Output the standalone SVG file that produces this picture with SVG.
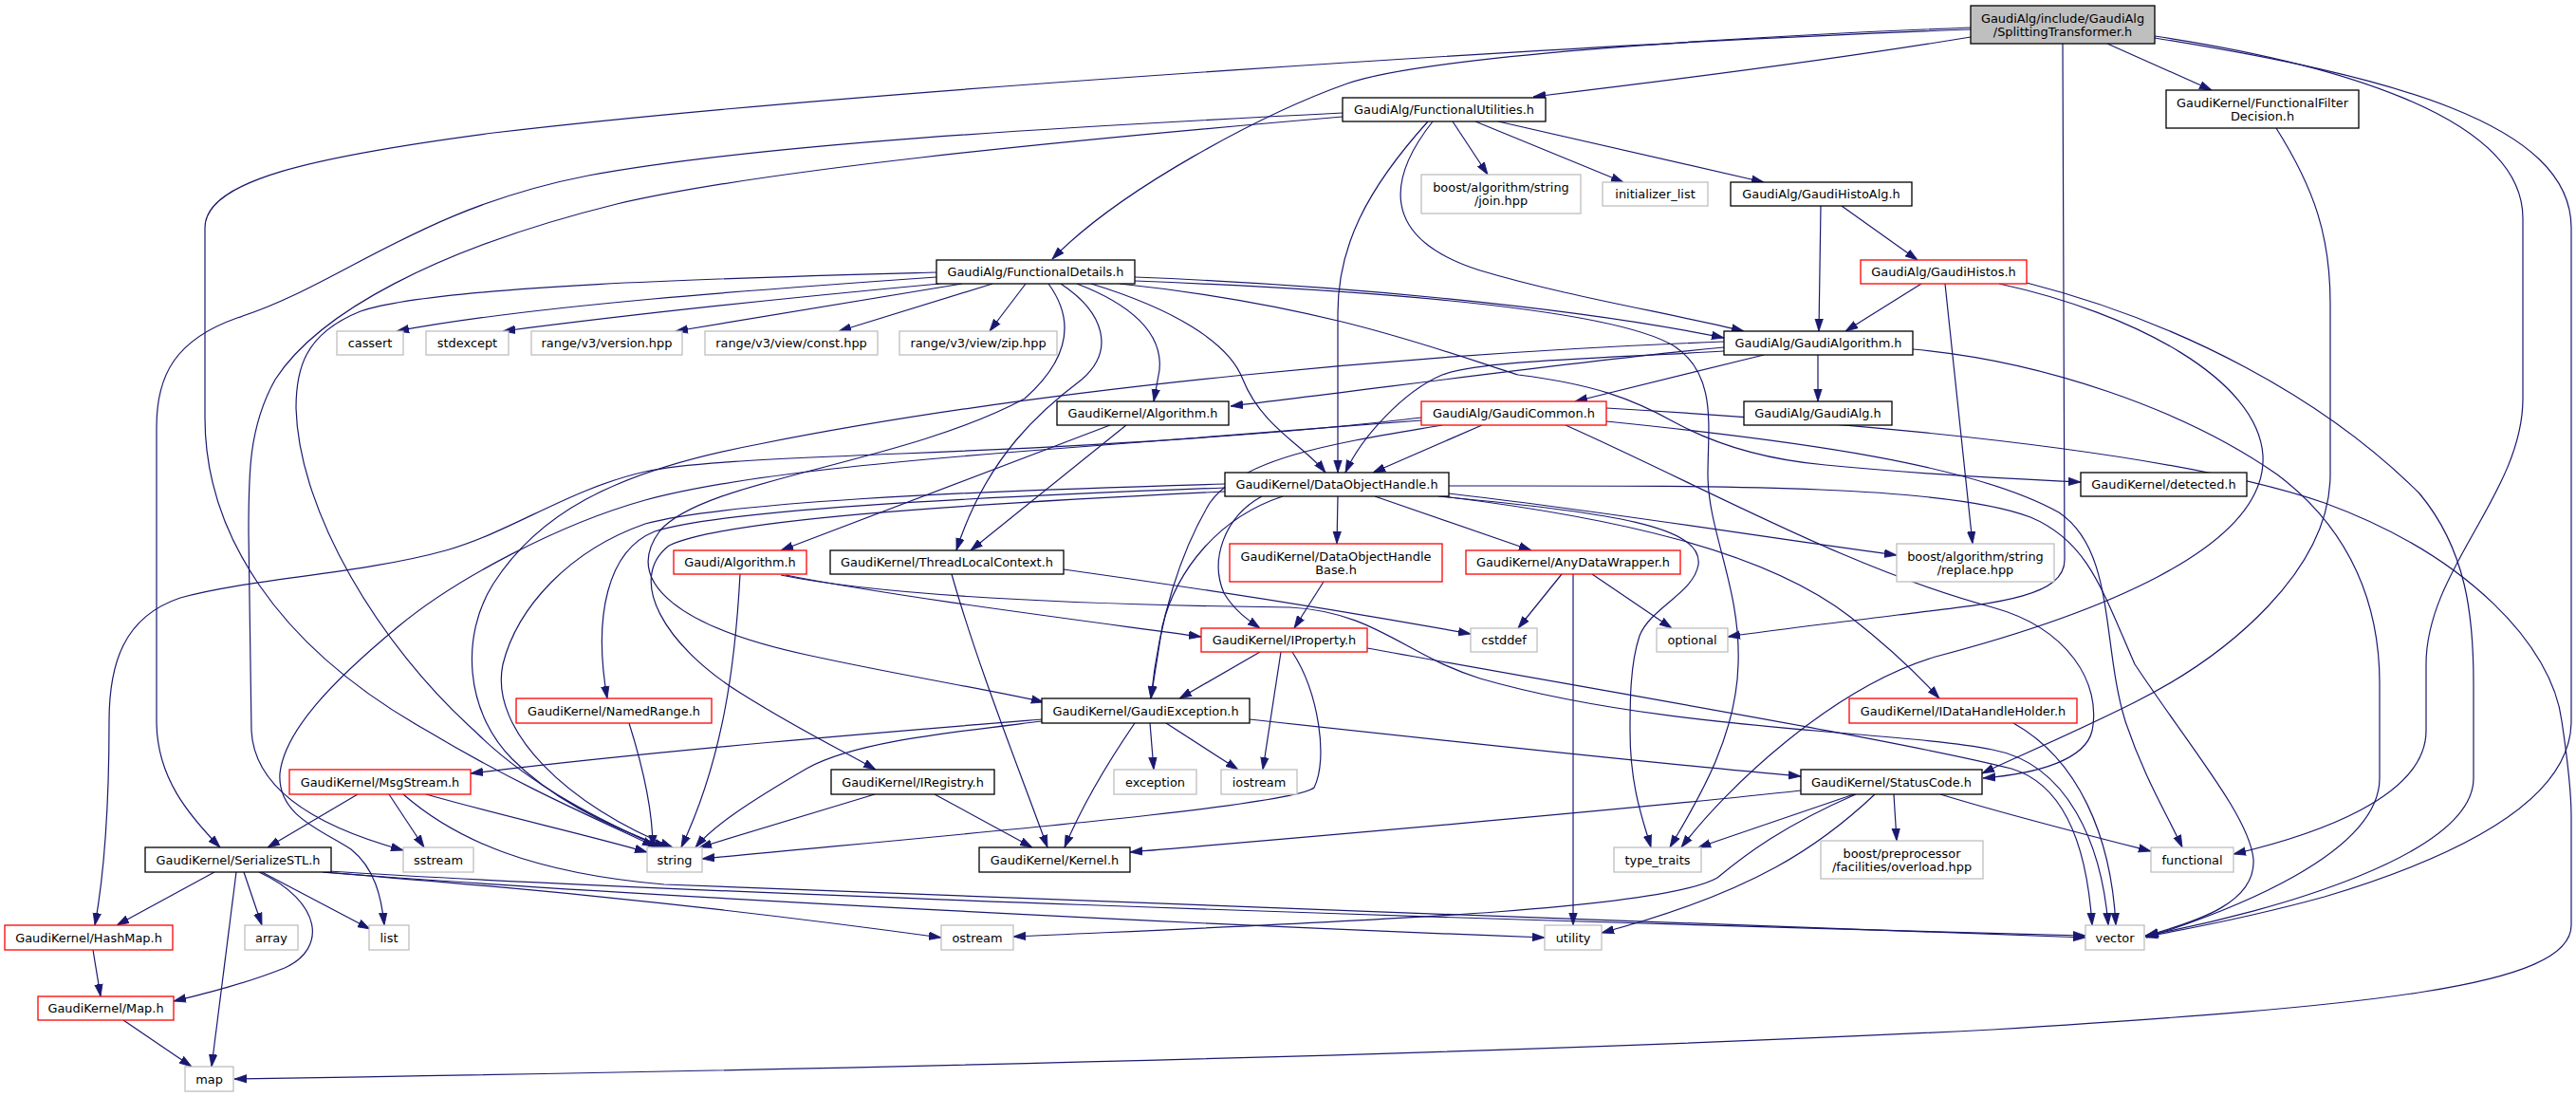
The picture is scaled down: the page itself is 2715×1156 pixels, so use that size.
<svg xmlns="http://www.w3.org/2000/svg" width="2715" height="1156" viewBox="0 0 2715 1156">
<defs>
<marker id="ah" viewBox="0 0 13 10" refX="13" refY="5" markerWidth="13" markerHeight="10" markerUnits="userSpaceOnUse" orient="auto"><path d="M0,0.8 L13,5 L0,9.2 z" fill="#191970" stroke="#191970" stroke-width="0.8"/></marker>
<style>
.e path{fill:none;stroke:#191970;stroke-width:1.2;marker-end:url(#ah)}
.n rect{fill:#fff;stroke:#000;stroke-width:1.3}
.r rect{fill:#fff;stroke:#f00;stroke-width:1.3}
.g rect{fill:#fff;stroke:#bfbfbf;stroke-width:1.3}
.root rect{fill:#bfbfbf;stroke:#000;stroke-width:1.3}
text{font-family:"DejaVu Sans","Liberation Sans",sans-serif;font-size:12.9px;text-anchor:middle;fill:#000}
</style>
</defs>
<rect width="2715" height="1156" fill="#fff"/>
<g id="edges" class="e">
<path d="M2077,39 C1950,60 1750,86 1616,102"/>
<path d="M2077,29 C1800,40 1500,60 1420,88 C1330,120 1180,200 1109,273"/>
<path d="M2077,31 C1700,45 900,95 520,140 C330,165 216,190 216,240 L216,440 C216,560 290,680 450,770 C550,830 640,868 690,892"/>
<path d="M2221,46 L2331,95"/>
<path d="M2174,46 L2176,590 C2176,630 2100,636 2000,648 C1920,658 1860,665 1821,671"/>
<path d="M2271,38 C2450,65 2659,120 2659,230 L2659,420 C2659,520 2557,600 2557,700 L2557,770 C2557,840 2440,880 2354,900"/>
<path d="M2271,40 C2520,80 2710,130 2710,240 L2710,760 C2710,840 2600,900 2450,945 C2370,967 2300,980 2261,987"/>
<path d="M1531,128 L1568,184"/>
<path d="M1555,128 L1711,192"/>
<path d="M1579,128 L1859,192"/>
<path d="M1510,128 C1465,185 1450,250 1560,285 C1650,312 1760,330 1838,349"/>
<path d="M1505,128 C1440,200 1410,260 1410,330 L1410,498"/>
<path d="M1415,119 C1100,135 800,152 620,185 C440,220 360,300 250,335 C185,358 165,395 165,450 L165,760 C165,820 200,860 232,893"/>
<path d="M1415,123 C1100,150 800,180 650,215 C460,262 335,330 290,400 C262,450 262,500 262,560 L265,770 C268,830 330,870 425,896"/>
<path d="M2399,135 C2440,200 2456,250 2456,320 L2456,500 C2456,600 2350,690 2250,740 C2180,775 2120,800 2089,815"/>
<path d="M1919,217 L1917,349"/>
<path d="M1941,217 L2021,274"/>
<path d="M2025,299 L1945,349"/>
<path d="M2050,299 L2079,573"/>
<path d="M2107,299 C2250,330 2380,400 2385,480 C2390,580 2200,650 2040,692 C1930,725 1820,830 1772,893"/>
<path d="M2136,298 C2300,340 2450,420 2550,520 C2600,580 2607,650 2607,720 L2607,820 C2607,900 2400,960 2261,986"/>
<path d="M987,292 C800,305 560,322 418,349"/>
<path d="M990,299 C850,312 660,332 530,349"/>
<path d="M987,287 C800,292 460,300 380,328 C320,352 312,390 312,430 C315,540 400,680 500,770 C560,830 640,868 697,893"/>
<path d="M1014,299 C900,318 800,335 712,349"/>
<path d="M1046,299 L884,349"/>
<path d="M1081,299 L1043,349"/>
<path d="M1196,292 C1400,300 1650,322 1817,356"/>
<path d="M1196,296 C1450,306 1700,325 1765,365 C1810,395 1800,450 1800,500 C1800,560 1835,620 1832,700 C1830,780 1785,850 1760,893"/>
<path d="M1135,299 C1190,320 1226,350 1222,390 L1216,423"/>
<path d="M1150,299 C1235,325 1295,360 1310,400 C1330,450 1375,470 1397,498"/>
<path d="M1118,299 C1165,330 1175,370 1140,400 C1100,430 1040,480 1008,580"/>
<path d="M1105,299 C1135,340 1125,380 1080,420 C950,490 740,505 695,560 C655,615 720,662 850,690 C950,712 1050,728 1100,740"/>
<path d="M1180,299 C1400,322 1520,370 1600,395 C1680,405 1720,420 1765,445 C1820,475 1880,486 1924,490 C2050,502 2130,505 2193,508"/>
<path d="M1817,366 C1650,382 1450,410 1297,428"/>
<path d="M1859,374 L1660,423"/>
<path d="M1916,374 L1916,423"/>
<path d="M1817,370 C1680,378 1560,380 1520,395 C1480,412 1435,460 1418,498"/>
<path d="M1817,360 C1500,372 1100,408 800,468 C640,498 565,545 520,615 C485,670 490,750 540,800 C590,850 660,878 703,893"/>
<path d="M2016,368 C2150,380 2300,430 2400,500 C2480,560 2508,640 2508,720 L2508,820 C2508,900 2350,960 2262,988"/>
<path d="M1562,448 L1447,498"/>
<path d="M1498,440 C1350,458 1150,470 950,478 C800,484 720,488 680,497 C600,515 540,560 470,580 C380,605 260,610 190,630 C130,650 115,700 115,760 C115,850 110,920 100,975"/>
<path d="M1498,443 C1380,452 1250,462 1150,470 C950,485 780,500 680,527 C590,552 480,610 420,660 C350,718 300,770 295,815 C292,860 340,875 370,895 C395,915 402,945 405,975"/>
<path d="M1520,448 C1420,465 1310,480 1275,530 C1245,580 1222,650 1213,736"/>
<path d="M1650,448 C1800,515 1950,600 2100,640 C2180,662 2215,720 2205,770 C2198,800 2150,815 2090,820"/>
<path d="M1693,430 C2000,448 2300,478 2450,530 C2600,585 2690,680 2700,760 C2706,800 2710,830 2710,860 L2710,975 C2710,1040 2500,1060 2100,1085 C1500,1115 700,1130 247,1137"/>
<path d="M1693,444 C1900,465 2080,490 2170,540 C2230,580 2215,680 2240,760 C2260,820 2285,860 2300,893"/>
<path d="M1410,523 L1409,573"/>
<path d="M1449,523 L1614,580"/>
<path d="M1527,520 C1700,540 1850,565 1999,585"/>
<path d="M1516,523 C1700,540 1795,555 1790,595 C1785,625 1740,640 1728,670 C1718,700 1718,740 1718,770 C1718,830 1732,865 1740,893"/>
<path d="M1520,523 C1700,545 1860,580 1950,650 C1995,685 2025,715 2044,736"/>
<path d="M1330,523 C1290,545 1275,590 1290,625 C1302,645 1318,655 1328,662"/>
<path d="M1352,523 C1285,545 1240,600 1225,660 L1213,736"/>
<path d="M1291,514 C1000,525 760,538 690,560 C640,580 625,650 640,736"/>
<path d="M1291,518 C1000,532 760,548 705,575 C660,610 700,680 780,730 C840,768 890,792 923,811"/>
<path d="M1291,510 C1000,518 760,530 680,552 C600,580 545,640 530,700 C515,770 600,850 709,893"/>
<path d="M1527,512 C1800,512 2050,510 2140,545 C2200,570 2215,620 2250,700 C2310,790 2370,860 2375,905 C2378,950 2320,970 2262,986"/>
<path d="M1170,448 L823,580"/>
<path d="M1187,448 L1023,580"/>
<path d="M780,605 C775,700 762,800 718,893"/>
<path d="M828,606 C950,630 1150,655 1266,671"/>
<path d="M823,606 C950,632 1200,638 1360,640 C1450,645 1480,690 1560,715 C1750,770 2000,770 2100,790 C2180,805 2215,890 2222,975"/>
<path d="M1121,600 C1300,625 1450,650 1550,668"/>
<path d="M1003,605 C1030,700 1070,800 1104,893"/>
<path d="M1395,613 L1364,662"/>
<path d="M1646,605 L1600,662"/>
<path d="M1678,605 L1762,662"/>
<path d="M1658,605 L1658,975"/>
<path d="M1328,687 L1243,736"/>
<path d="M1350,687 L1331,811"/>
<path d="M1362,687 C1390,730 1400,800 1385,830 C1360,850 1000,880 740,905"/>
<path d="M1441,683 C1700,730 2000,780 2120,810 C2180,828 2200,900 2205,975"/>
<path d="M663,762 C675,800 688,850 688,893"/>
<path d="M1098,758 C950,770 700,790 496,815"/>
<path d="M1098,760 C1000,772 900,782 850,810 C790,845 752,870 733,893"/>
<path d="M1196,762 C1170,800 1140,850 1122,893"/>
<path d="M1212,762 L1216,811"/>
<path d="M1229,762 L1305,811"/>
<path d="M1317,758 C1500,778 1750,805 1898,818"/>
<path d="M2122,762 C2190,800 2225,880 2230,975"/>
<path d="M377,837 L282,893"/>
<path d="M410,837 L447,893"/>
<path d="M449,837 C530,860 620,880 682,898"/>
<path d="M425,837 C480,885 560,920 700,932 C1100,950 1800,972 2198,988"/>
<path d="M922,837 L737,893"/>
<path d="M985,837 L1088,893"/>
<path d="M1898,833 C1700,855 1400,880 1191,898"/>
<path d="M1954,837 L1790,893"/>
<path d="M1956,837 C1880,870 1840,900 1810,925 C1750,960 1400,972 1068,987"/>
<path d="M1976,837 C1920,890 1850,940 1688,983"/>
<path d="M1996,837 L1999,886"/>
<path d="M2045,837 C2120,860 2200,880 2267,897"/>
<path d="M226,919 L123,975"/>
<path d="M273,919 C340,950 345,1000 300,1020 C260,1036 220,1046 183,1055"/>
<path d="M249,919 L223,1124"/>
<path d="M257,919 L276,975"/>
<path d="M276,919 L390,979"/>
<path d="M340,919 C500,932 700,948 992,988"/>
<path d="M342,919 C600,940 1200,972 1628,988"/>
<path d="M345,918 C700,940 1500,968 2198,986"/>
<path d="M98,1001 L106,1050"/>
<path d="M130,1075 L202,1124"/>
</g>
<g id="node-root" class="root"><rect x="2077" y="6" width="194" height="40"/><text x="2174" y="23.5">GaudiAlg/include/GaudiAlg</text><text x="2174" y="37.5">/SplittingTransformer.h</text></g>
<g id="node-functionalutilities" class="n"><rect x="1415" y="103" width="214" height="25"/><text x="1522" y="120">GaudiAlg/FunctionalUtilities.h</text></g>
<g id="node-functionalfilterdecision" class="n"><rect x="2283" y="95" width="203" height="40"/><text x="2384.5" y="112.5">GaudiKernel/FunctionalFilter</text><text x="2384.5" y="126.5">Decision.h</text></g>
<g id="node-join" class="g"><rect x="1498" y="184" width="168" height="41"/><text x="1582" y="202">boost/algorithm/string</text><text x="1582" y="216">/join.hpp</text></g>
<g id="node-initializer_list" class="g"><rect x="1689" y="192" width="111" height="25"/><text x="1744.5" y="209">initializer_list</text></g>
<g id="node-gaudihistoalg" class="n"><rect x="1824" y="192" width="191" height="25"/><text x="1919.5" y="209">GaudiAlg/GaudiHistoAlg.h</text></g>
<g id="node-gaudihistos" class="r"><rect x="1961" y="274" width="175" height="25"/><text x="2048.5" y="291">GaudiAlg/GaudiHistos.h</text></g>
<g id="node-functionaldetails" class="n"><rect x="987" y="274" width="209" height="25"/><text x="1091.5" y="291">GaudiAlg/FunctionalDetails.h</text></g>
<g id="node-cassert" class="g"><rect x="355" y="349" width="70" height="25"/><text x="390" y="366">cassert</text></g>
<g id="node-stdexcept" class="g"><rect x="449" y="349" width="87" height="25"/><text x="492.5" y="366">stdexcept</text></g>
<g id="node-version" class="g"><rect x="560" y="349" width="159" height="25"/><text x="639.5" y="366">range/v3/version.hpp</text></g>
<g id="node-const" class="g"><rect x="743" y="349" width="182" height="25"/><text x="834" y="366">range/v3/view/const.hpp</text></g>
<g id="node-zip" class="g"><rect x="948" y="349" width="166" height="25"/><text x="1031" y="366">range/v3/view/zip.hpp</text></g>
<g id="node-gaudialgorithm" class="n"><rect x="1817" y="349" width="199" height="25"/><text x="1916.5" y="366">GaudiAlg/GaudiAlgorithm.h</text></g>
<g id="node-gk-algorithm" class="n"><rect x="1114" y="423" width="181" height="25"/><text x="1204.5" y="440">GaudiKernel/Algorithm.h</text></g>
<g id="node-gaudicommon" class="r"><rect x="1498" y="423" width="195" height="25"/><text x="1595.5" y="440">GaudiAlg/GaudiCommon.h</text></g>
<g id="node-gaudialg" class="n"><rect x="1838" y="423" width="156" height="25"/><text x="1916" y="440">GaudiAlg/GaudiAlg.h</text></g>
<g id="node-dataobjecthandle" class="n"><rect x="1291" y="498" width="236" height="25"/><text x="1409" y="515">GaudiKernel/DataObjectHandle.h</text></g>
<g id="node-detected" class="n"><rect x="2193" y="498" width="175" height="25"/><text x="2280.5" y="515">GaudiKernel/detected.h</text></g>
<g id="node-gaudi-algorithm" class="r"><rect x="710" y="580" width="140" height="25"/><text x="780" y="597">Gaudi/Algorithm.h</text></g>
<g id="node-threadlocalcontext" class="n"><rect x="875" y="580" width="246" height="25"/><text x="998" y="597">GaudiKernel/ThreadLocalContext.h</text></g>
<g id="node-dataobjecthandlebase" class="r"><rect x="1296" y="573" width="224" height="40"/><text x="1408" y="590.5">GaudiKernel/DataObjectHandle</text><text x="1408" y="604.5">Base.h</text></g>
<g id="node-anydatawrapper" class="r"><rect x="1545" y="580" width="226" height="25"/><text x="1658" y="597">GaudiKernel/AnyDataWrapper.h</text></g>
<g id="node-replace" class="g"><rect x="1999" y="573" width="166" height="40"/><text x="2082" y="590.5">boost/algorithm/string</text><text x="2082" y="604.5">/replace.hpp</text></g>
<g id="node-iproperty" class="r"><rect x="1266" y="662" width="175" height="25"/><text x="1353.5" y="679">GaudiKernel/IProperty.h</text></g>
<g id="node-cstddef" class="g"><rect x="1550" y="662" width="70" height="25"/><text x="1585" y="679">cstddef</text></g>
<g id="node-optional" class="g"><rect x="1746" y="662" width="75" height="25"/><text x="1783.5" y="679">optional</text></g>
<g id="node-namedrange" class="r"><rect x="544" y="736" width="206" height="26"/><text x="647" y="753.5">GaudiKernel/NamedRange.h</text></g>
<g id="node-gaudiexception" class="n"><rect x="1098" y="736" width="219" height="26"/><text x="1207.5" y="753.5">GaudiKernel/GaudiException.h</text></g>
<g id="node-idatahandleholder" class="r"><rect x="1949" y="736" width="240" height="26"/><text x="2069" y="753.5">GaudiKernel/IDataHandleHolder.h</text></g>
<g id="node-msgstream" class="r"><rect x="305" y="811" width="191" height="26"/><text x="400.5" y="828.5">GaudiKernel/MsgStream.h</text></g>
<g id="node-iregistry" class="n"><rect x="876" y="811" width="172" height="26"/><text x="962" y="828.5">GaudiKernel/IRegistry.h</text></g>
<g id="node-exception" class="g"><rect x="1174" y="811" width="87" height="26"/><text x="1217.5" y="828.5">exception</text></g>
<g id="node-iostream" class="g"><rect x="1287" y="811" width="80" height="26"/><text x="1327" y="828.5">iostream</text></g>
<g id="node-statuscode" class="n"><rect x="1898" y="811" width="191" height="26"/><text x="1993.5" y="828.5">GaudiKernel/StatusCode.h</text></g>
<g id="node-serializestl" class="n"><rect x="153" y="893" width="196" height="26"/><text x="251" y="910.5">GaudiKernel/SerializeSTL.h</text></g>
<g id="node-sstream" class="g"><rect x="425" y="893" width="74" height="26"/><text x="462" y="910.5">sstream</text></g>
<g id="node-string" class="g"><rect x="682" y="893" width="58" height="26"/><text x="711" y="910.5">string</text></g>
<g id="node-kernel" class="n"><rect x="1032" y="893" width="159" height="26"/><text x="1111.5" y="910.5">GaudiKernel/Kernel.h</text></g>
<g id="node-type_traits" class="g"><rect x="1701" y="893" width="92" height="26"/><text x="1747" y="910.5">type_traits</text></g>
<g id="node-preprocessor" class="g"><rect x="1919" y="886" width="171" height="40"/><text x="2004.5" y="903.5">boost/preprocessor</text><text x="2004.5" y="917.5">/facilities/overload.hpp</text></g>
<g id="node-functional" class="g"><rect x="2267" y="893" width="87" height="26"/><text x="2310.5" y="910.5">functional</text></g>
<g id="node-hashmap" class="r"><rect x="5" y="975" width="177" height="26"/><text x="93.5" y="992.5">GaudiKernel/HashMap.h</text></g>
<g id="node-array" class="g"><rect x="258" y="975" width="56" height="26"/><text x="286" y="992.5">array</text></g>
<g id="node-list" class="g"><rect x="389" y="975" width="42" height="26"/><text x="410" y="992.5">list</text></g>
<g id="node-ostream" class="g"><rect x="992" y="975" width="76" height="26"/><text x="1030" y="992.5">ostream</text></g>
<g id="node-utility" class="g"><rect x="1628" y="975" width="60" height="26"/><text x="1658" y="992.5">utility</text></g>
<g id="node-vector" class="g"><rect x="2198" y="975" width="62" height="26"/><text x="2229" y="992.5">vector</text></g>
<g id="node-maph" class="r"><rect x="40" y="1050" width="143" height="25"/><text x="111.5" y="1067">GaudiKernel/Map.h</text></g>
<g id="node-map" class="g"><rect x="195" y="1124" width="51" height="26"/><text x="220.5" y="1141.5">map</text></g>
</svg>
